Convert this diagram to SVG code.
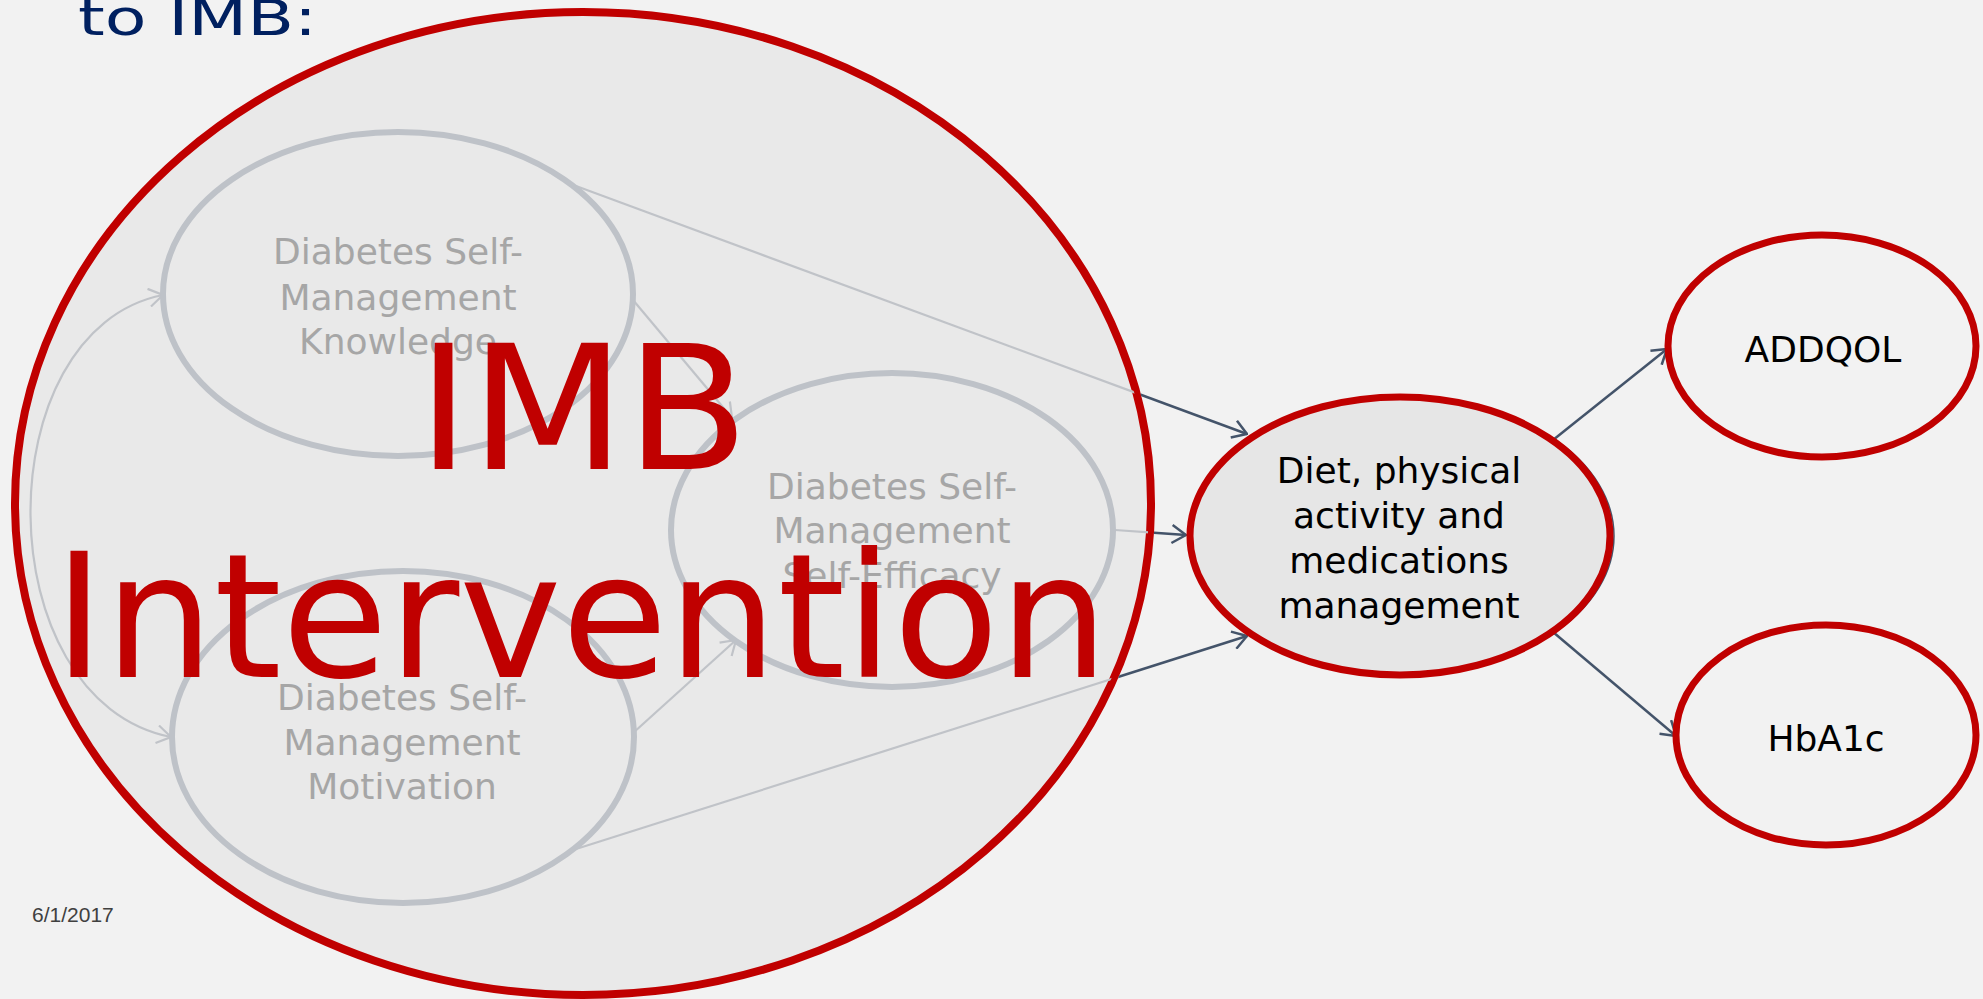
<svg xmlns="http://www.w3.org/2000/svg" width="1983" height="999" viewBox="0 0 1983 999">
  <style>
    .bg { fill: #F2F2F2; }
    .inner { fill: #E9E9E9; stroke: #BEC2C8; stroke-width: 6; }
    .inner-label { font-family: "DejaVu Sans", Verdana, sans-serif; font-size: 36px; fill: #A6A6A6; text-anchor: middle; }
    .outcome { stroke: #C00000; stroke-width: 7; }
    .label { font-family: "DejaVu Sans", Verdana, sans-serif; font-size: 36px; fill: #000000; text-anchor: middle; }
    .big-label { font-family: "DejaVu Sans", Verdana, sans-serif; font-size: 173px; fill: #C00000; text-anchor: middle; }
    .edge-dark { fill: none; stroke: #44546A; stroke-width: 2.5; }
    .edge-light { fill: none; stroke: #C0C3C8; stroke-width: 2.2; }
  </style>
  <defs>
    <marker id="arrow-dark" viewBox="0 0 16 20" refX="15" refY="10" markerWidth="16" markerHeight="20" markerUnits="userSpaceOnUse" orient="auto">
      <path d="M1,1 L15,10 L1,19" fill="none" stroke="#44546A" stroke-width="2.5"/>
    </marker>
    <marker id="arrow-light" viewBox="0 0 16 20" refX="15" refY="10" markerWidth="16" markerHeight="20" markerUnits="userSpaceOnUse" orient="auto-start-reverse">
      <path d="M1,1 L15,10 L1,19" fill="none" stroke="#C0C3C8" stroke-width="2.2"/>
    </marker>
    <!-- inside of the intervention area: connectors are drawn faded there -->
    <clipPath id="inside-area">
      <ellipse cx="583" cy="503.5" rx="566" ry="489.5"/>
    </clipPath>
    <!-- outside of the intervention outline: connectors are drawn dark there -->
    <mask id="outside-area" maskUnits="userSpaceOnUse" x="0" y="0" width="1983" height="999">
      <rect x="0" y="0" width="1983" height="999" fill="#fff"/>
      <ellipse cx="583" cy="503.5" rx="572" ry="495.5" fill="#000"/>
    </mask>
  </defs>

  <rect class="bg" x="0" y="0" width="1983" height="999"/>

  <!-- slide title (continues above the visible area) -->
  <text x="78" y="35" font-family="'DejaVu Sans', Verdana, sans-serif" font-size="50" fill="#002060" textLength="239" lengthAdjust="spacingAndGlyphs">to IMB:</text>

  <!-- intervention area -->
  <g id="imb-intervention">
    <ellipse cx="583" cy="503.5" rx="568" ry="491.5" fill="#E9E9E9" stroke="#C00000" stroke-width="8"/>
  </g>

  <g id="connectors">
    <!-- dark parts, outside the intervention outline -->
    <g mask="url(#outside-area)">
      <line class="edge-dark" x1="576" y1="186" x2="1247" y2="434" marker-end="url(#arrow-dark)"/>
      <line class="edge-dark" x1="1115" y1="530" x2="1186" y2="535" marker-end="url(#arrow-dark)"/>
      <line class="edge-dark" x1="576" y1="849" x2="1247" y2="636" marker-end="url(#arrow-dark)"/>
    </g>
    <!-- faded parts, inside the intervention area -->
    <g clip-path="url(#inside-area)">
      <line class="edge-light" x1="576" y1="186" x2="1247" y2="434"/>
      <line class="edge-light" x1="1115" y1="530" x2="1186" y2="535"/>
      <line class="edge-light" x1="576" y1="849" x2="1247" y2="636"/>
    </g>
    <line class="edge-light" x1="633" y1="300" x2="732" y2="418" marker-end="url(#arrow-light)"/>
    <line class="edge-light" x1="633" y1="733" x2="736" y2="640" marker-end="url(#arrow-light)"/>
    <path class="edge-light" d="M163,295 C-15,330 -15,700 171,737" marker-start="url(#arrow-light)" marker-end="url(#arrow-light)"/>
    <!-- outcomes -->
    <line class="edge-dark" x1="1553" y1="440" x2="1667" y2="349" marker-end="url(#arrow-dark)"/>
    <line class="edge-dark" x1="1553" y1="632" x2="1676" y2="736" marker-end="url(#arrow-dark)"/>
  </g>

  <g id="node-knowledge">
    <ellipse class="inner" cx="398" cy="294" rx="235" ry="162"/>
    <text class="inner-label" x="398" y="264">Diabetes Self-</text>
    <text class="inner-label" x="398" y="310">Management</text>
    <text class="inner-label" x="398" y="354">Knowledge</text>
  </g>

  <g id="node-self-efficacy">
    <ellipse class="inner" cx="892" cy="530" rx="221" ry="157"/>
    <text class="inner-label" x="892" y="499">Diabetes Self-</text>
    <text class="inner-label" x="892" y="543">Management</text>
    <text class="inner-label" x="892" y="588">Self-Efficacy</text>
  </g>

  <g id="node-motivation">
    <ellipse class="inner" cx="403" cy="737" rx="231" ry="166"/>
    <text class="inner-label" x="402" y="710">Diabetes Self-</text>
    <text class="inner-label" x="402" y="755">Management</text>
    <text class="inner-label" x="402" y="799">Motivation</text>
  </g>

  <g id="imb-intervention-label">
    <text class="big-label" x="583" y="469" textLength="332" lengthAdjust="spacingAndGlyphs">IMB</text>
    <text class="big-label" x="581" y="677" textLength="1055" lengthAdjust="spacingAndGlyphs">Intervention</text>
  </g>

  <g id="node-behaviour">
    <ellipse cx="1403" cy="536" rx="211" ry="139" fill="none" stroke="#44546A" stroke-width="1.5"/>
    <ellipse class="outcome" cx="1400" cy="536" rx="210" ry="139" fill="#E6E6E6"/>
    <text class="label" x="1399" y="483">Diet, physical</text>
    <text class="label" x="1399" y="528">activity and</text>
    <text class="label" x="1399" y="573">medications</text>
    <text class="label" x="1399" y="618">management</text>
  </g>

  <g id="node-addqol">
    <ellipse class="outcome" cx="1822" cy="346" rx="154" ry="111" fill="#F2F2F2"/>
    <text class="label" x="1823" y="362">ADDQOL</text>
  </g>

  <g id="node-hba1c">
    <ellipse class="outcome" cx="1826" cy="735" rx="150" ry="110" fill="#F2F2F2"/>
    <text class="label" x="1826" y="751">HbA1c</text>
  </g>

  <text x="32" y="922" font-family="'Liberation Sans', Arial, sans-serif" font-size="21" fill="#404040">6/1/2017</text>
</svg>
